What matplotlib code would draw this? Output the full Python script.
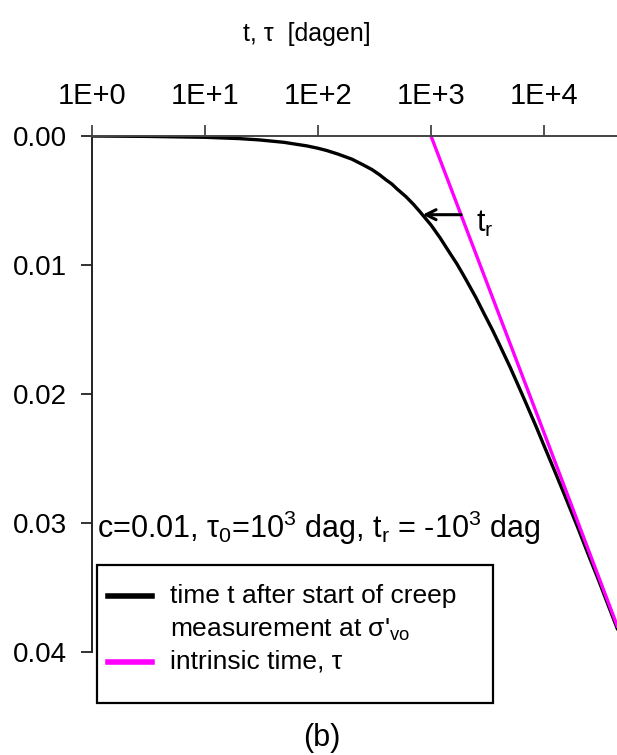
import matplotlib
matplotlib.use("Agg")
import matplotlib.pyplot as plt
from matplotlib.patches import Rectangle
from matplotlib.lines import Line2D
from matplotlib.ticker import FixedLocator, FixedFormatter

plt.rcParams['font.family'] = ['Liberation Sans', 'DejaVu Sans']
plt.rcParams['mathtext.fontset'] = 'custom'
plt.rcParams['mathtext.rm'] = 'Liberation Sans'
plt.rcParams['mathtext.it'] = 'Liberation Sans:italic'

# creep strain versus time t after start of creep measurement
t_days = [1, 3, 10, 20, 30, 50, 60, 80, 100, 120, 150, 200, 250, 300, 350, 400,
          450, 500, 600, 700, 800, 900, 1000, 1200, 1500, 1700, 2000, 2500,
          3000, 3500, 4000, 5000, 6000, 7000, 8500, 10000, 12000, 15000,
          20000, 25000, 30000, 37000, 45000]
strain_t = [0.0000, 0.00003, 0.0001, 0.0002, 0.0003, 0.00049, 0.0006, 0.00077,
            0.00095, 0.00113, 0.0014, 0.0018, 0.00223, 0.0026, 0.0030, 0.0034,
            0.00372, 0.0041, 0.0047, 0.0053, 0.00588, 0.00642, 0.0069, 0.00788,
            0.0092, 0.00993, 0.0110, 0.01253, 0.0139, 0.01504, 0.0161, 0.0179,
            0.01946, 0.0208, 0.02251, 0.0240, 0.02565, 0.0277, 0.0304, 0.03258,
            0.0343, 0.03638, 0.0383]

# creep strain versus intrinsic time tau
tau_days = [1000, 10000, 45000]
strain_tau = [0.0, 0.0230, 0.0381]

x_ticks = [1, 10, 100, 1000, 10000]
x_tick_labels = ['1E+0', '1E+1', '1E+2', '1E+3', '1E+4']
y_ticks = [0.00, 0.01, 0.02, 0.03, 0.04]
y_tick_labels = ['0.00', '0.01', '0.02', '0.03', '0.04']

# shift t_r drawn as an arrow from the tau line to the t curve
arrow_strain = 0.0061
arrow_tau = 1844
arrow_t = 844

W, H = 617, 755
fig = plt.figure(figsize=(W / 100, H / 100), dpi=100)

def fx(px):
    return px / W

def fy(py):
    return 1 - py / H

ax = fig.add_axes([fx(92), fy(652), 1 - fx(92), fy(136) - fy(652)])
ax.set_xscale('log')
ax.set_xlim(1, 10 ** 4.646)
ax.set_ylim(0.04, 0.0)

ax.plot(t_days, strain_t, color='black', lw=2.4, solid_capstyle='butt',
        solid_joinstyle='round')
ax.plot(tau_days, strain_tau, color='#ff00ff', lw=2.4, solid_capstyle='butt')

ax.annotate('', xy=(arrow_t, arrow_strain), xytext=(arrow_tau, arrow_strain),
            arrowprops=dict(arrowstyle='->', color='black', lw=2.2,
                            mutation_scale=18, shrinkA=0, shrinkB=0))
ax.text(3000, 0.0068, r't$_\mathrm{r}$', fontsize=22, ha='center', va='center')

for side in ('right', 'bottom'):
    ax.spines[side].set_visible(False)
ax.spines['top'].set_color('#444444')
ax.spines['left'].set_color('#222222')
ax.spines['top'].set_linewidth(1.4)
ax.spines['left'].set_linewidth(1.4)

ax.xaxis.set_ticks_position('top')
ax.xaxis.set_major_locator(FixedLocator(x_ticks))
ax.xaxis.set_major_formatter(FixedFormatter(x_tick_labels))
ax.xaxis.set_minor_locator(FixedLocator([]))
ax.tick_params(axis='x', which='major', direction='out', length=8, width=1.3,
               color='#444444', labelsize=21, pad=11)
ax.yaxis.set_major_locator(FixedLocator(y_ticks))
ax.yaxis.set_major_formatter(FixedFormatter(y_tick_labels))
ax.tick_params(axis='y', direction='out', length=8, width=1.3,
               color='#222222', labelsize=20, pad=10)

fig.text(fx(307), fy(34), r't, τ  [dagen]', fontsize=18, ha='center', va='center')

fig.text(fx(97), fy(528), r'c=0.01, τ$_0$=10$^3$ dag, t$_\mathrm{r}$ = -10$^3$ dag',
         fontsize=22, ha='left', va='center')

# legend box
fig.patches.append(Rectangle((fx(97), fy(703)), fx(493) - fx(97), fy(565) - fy(703),
                             transform=fig.transFigure, fill=True, facecolor='white',
                             edgecolor='black', lw=1.6, zorder=5))
fig.lines.append(Line2D([fx(108), fx(152)], [fy(596), fy(596)], transform=fig.transFigure,
                        color='black', lw=4, zorder=6))
fig.lines.append(Line2D([fx(108), fx(152)], [fy(662), fy(662)], transform=fig.transFigure,
                        color='#ff00ff', lw=4, zorder=6))
fig.text(fx(170), fy(596), 'time t after start of creep', fontsize=19,
         ha='left', va='center', zorder=7)
fig.text(fx(170), fy(630), r"measurement at σ'$_\mathrm{vo}$", fontsize=19,
         ha='left', va='center', zorder=7)
fig.text(fx(170), fy(662), 'intrinsic time, τ', fontsize=19,
         ha='left', va='center', zorder=7)

fig.text(fx(322), fy(738), '(b)', fontsize=22, ha='center', va='center')

fig.savefig('out.png', dpi=100)
